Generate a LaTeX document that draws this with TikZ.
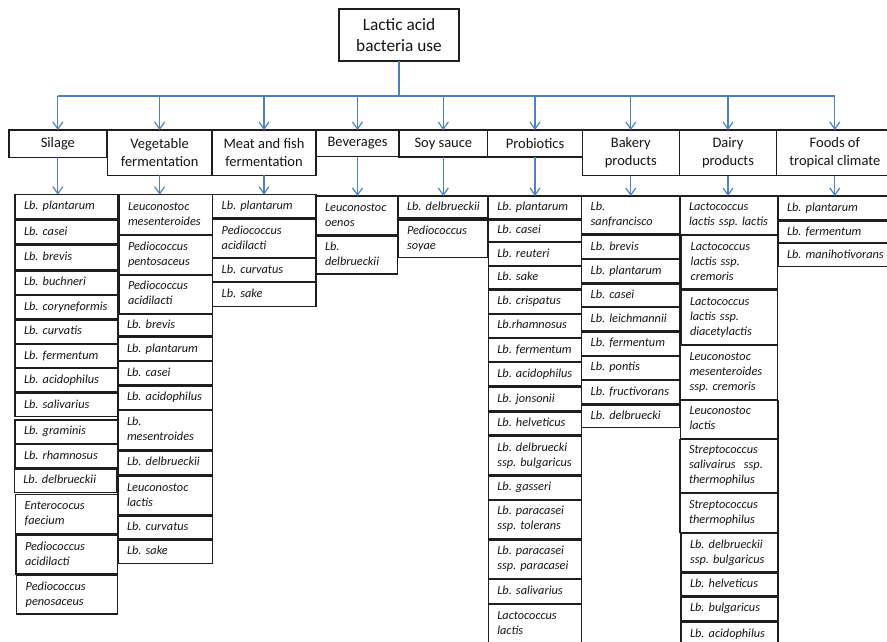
\documentclass[tikz,border=0pt]{standalone}
\usepackage{fontspec}
\setmainfont{Carlito}
\usetikzlibrary{arrows.meta}
\definecolor{linkblue}{RGB}{74,126,190}
\definecolor{arrowblue}{RGB}{80,128,196}
\definecolor{boxline}{RGB}{30,30,30}
\definecolor{inktext}{RGB}{20,20,20}
\tikzset{
  box/.style={draw=boxline, line width=1.2pt, inner sep=0pt, outer sep=0pt, text=inktext},
  rootbox/.style={box, align=center, font=\fontsize{17.3}{21}\selectfont},
  catbox/.style={box, align=center, font=\fontsize{14.5}{18}\selectfont},
  leaf/.style={box, line width=1.1pt, align=left, inner xsep=9pt, inner ysep=0pt,
    font=\itshape\fontsize{12.3}{15}\selectfont},
  trunk/.style={draw=linkblue, line width=2pt},
  bus/.style={draw=linkblue, line width=1.4pt},
  arr/.style={draw=arrowblue, line width=1.1pt,
    -{Straight Barb[length=7pt,width=10pt,line width=1.2pt]}},
}
% category box: name, x1, y1, x2, y2, text
\newcommand\catnode[6]{%
  \pgfmathsetmacro\cbw{#4-#2}\pgfmathsetmacro\cbh{#5-#3}%
  \node[catbox, minimum width=\cbw pt, minimum height=\cbh pt] (#1) at ({(#2+#4)/2},{(#3+#5)/2}) {#6};}
% species box: name, x1, y1, x2, y2, lines
\newcommand\leafnode[6]{%
  \pgfmathsetmacro\lbw{#4-#2-18}\pgfmathsetmacro\lbh{#5-#3}%
  \node[leaf, text width=\lbw pt, minimum height=\lbh pt] (#1) at ({(#2+#4)/2},{(#3+#5)/2})
    {\begin{tabular}{@{}l@{}}#6\end{tabular}};}
\frenchspacing
\begin{document}
\begin{tikzpicture}[x=1pt,y=-1pt]
\useasboundingbox (0,0) rectangle (887,641);
\clip (0,0) rectangle (887,641);

\node[rootbox, minimum width=120pt, minimum height=52pt] (root) at (399,35) {Lactic acid\\bacteria use};
\coordinate (busy) at (0,96);

\catnode{silage}{9}{130}{106.7}{157.3}{Silage}
\catnode{veg}{107.3}{130}{212}{175.3}{Vegetable\\fermentation}
\catnode{meat}{212}{130}{316}{175.3}{Meat and fish\\fermentation}
\catnode{bev}{316}{130}{399}{156.7}{Beverages}
\catnode{soy}{399}{130}{487.7}{157}{Soy sauce}
\catnode{prob}{487.7}{130}{582.3}{157}{Probiotics}
\catnode{bake}{582.3}{130}{679.3}{175.7}{Bakery\\products}
\catnode{dairy}{679.3}{130}{776.7}{175.7}{Dairy\\products}
\catnode{trop}{776.7}{130}{893}{175.7}{Foods of\\tropical climate}

% Silage
\leafnode{s1}{15}{194.7}{117.7}{218.7}{Lb. plantarum}
\leafnode{s2}{15}{220}{117.7}{244}{Lb. casei}
\leafnode{s3}{15}{245.7}{117.7}{269.3}{Lb. brevis}
\leafnode{s4}{15}{271}{117.7}{294.7}{Lb. buchneri}
\leafnode{s5}{15}{295.7}{117.7}{318.7}{Lb. coryneformis}
\leafnode{s6}{15}{320}{117.7}{343.3}{Lb. curvatis}
\leafnode{s7}{15}{344.3}{117.7}{367.7}{Lb. fermentum}
\leafnode{s8}{15}{368.7}{117.7}{392}{Lb. acidophilus}
\leafnode{s9}{15}{393.3}{117.7}{416.7}{Lb. salivarius}
\leafnode{s10}{15}{420}{117.7}{443.3}{Lb. graminis}
\leafnode{s11}{15}{444.3}{117.7}{467.7}{Lb. rhamnosus}
\leafnode{s12}{14.3}{469}{116.7}{492.7}{Lb. delbrueckii}
\leafnode{s13}{15.7}{494.7}{117.3}{534}{Enterococus\\faecium}
\leafnode{s14}{16}{535.3}{117.3}{574}{Pediococcus\\acidilacti}
\leafnode{s15}{16.7}{575.3}{117.3}{614}{Pediococcus\\penosaceus}

% Vegetable fermentation
\leafnode{v1}{119}{194.7}{212.3}{234.3}{Leuconostoc\\mesenteroides}
\leafnode{v2}{119}{235.3}{212.3}{274.3}{Pediococcus\\pentosaceus}
\leafnode{v3}{119}{275.3}{212.3}{313.3}{Pediococcus\\acidilacti}
\leafnode{v4}{118}{314}{212.3}{336}{Lb. brevis}
\leafnode{v5}{118}{337.3}{212.3}{360.7}{Lb. plantarum}
\leafnode{v6}{118}{361.7}{212.3}{384.7}{Lb. casei}
\leafnode{v7}{118}{386}{212.3}{409.3}{Lb. acidophilus}
\leafnode{v8}{118}{410.3}{212.3}{449.3}{Lb.\\mesentroides}
\leafnode{v9}{118}{451}{212.3}{474.3}{Lb. delbrueckii}
\leafnode{v10}{118}{476}{212.3}{515}{Leuconostoc\\lactis}
\leafnode{v11}{118}{516}{212.3}{538.7}{Lb. curvatus}
\leafnode{v12}{118}{540}{212.3}{563.3}{Lb. sake}

% Meat and fish fermentation
\leafnode{m1}{212.7}{194.7}{316}{218}{Lb. plantarum}
\leafnode{m2}{212.7}{219.3}{316}{257.7}{Pediococcus\\acidilacti}
\leafnode{m3}{212.7}{258.7}{316}{281.7}{Lb. curvatus}
\leafnode{m4}{212.7}{282.7}{316}{306.3}{Lb. sake}

% Beverages
\leafnode{b1}{316}{196}{397.3}{235}{Leuconostoc\\oenos}
\leafnode{b2}{316}{236}{397.3}{274}{Lb.\\delbrueckii}

% Soy sauce
\leafnode{y1}{398}{196}{488}{218}{Lb. delbrueckii}
\leafnode{y2}{398}{220}{488}{257.7}{Pediococcus\\soyae}

% Probiotics
\leafnode{p1}{488.3}{196}{581.7}{218.3}{Lb. plantarum}
\leafnode{p2}{488.3}{220}{581.7}{241.7}{Lb. casei}
\leafnode{p3}{488.3}{242.7}{581.7}{265.3}{Lb. reuteri}
\leafnode{p4}{488.3}{266.7}{581.7}{289}{Lb. sake}
\leafnode{p5}{488.3}{290}{581.7}{313.3}{Lb. crispatus}
\leafnode{p6}{488.3}{314}{581.7}{337.3}{Lb.rhamnosus}
\leafnode{p7}{488.3}{338.7}{581.7}{361.7}{Lb. fermentum}
\leafnode{p8}{488.3}{362.7}{581.7}{386}{Lb. acidophilus}
\leafnode{p9}{488.3}{387.3}{581.7}{410.7}{Lb. jonsonii}
\leafnode{p10}{488.3}{412}{581.7}{435}{Lb. helveticus}
\leafnode{p11}{488.3}{436}{581.7}{475}{Lb. delbruecki\\ssp. bulgaricus}
\leafnode{p12}{488.3}{476}{581.7}{499.3}{Lb. gasseri}
\leafnode{p13}{488.3}{500}{581.7}{538.7}{Lb. paracasei\\ssp. tolerans}
\leafnode{p14}{488.3}{540}{581.7}{578.3}{Lb. paracasei\\ssp. paracasei}
\leafnode{p15}{488.3}{579.7}{581.7}{603.3}{Lb. salivarius}
\leafnode{p16}{488.3}{604.7}{581.7}{643.3}{Lactococcus\\lactis}

% Bakery products
\leafnode{k1}{581.7}{196}{680}{234}{Lb.\\sanfrancisco}
\leafnode{k2}{581.7}{235.7}{680}{258.3}{Lb. brevis}
\leafnode{k3}{581.7}{259.3}{680}{282.7}{Lb. plantarum}
\leafnode{k4}{581.7}{284}{680}{306.7}{Lb. casei}
\leafnode{k5}{581.7}{307.3}{680}{330.7}{Lb. leichmannii}
\leafnode{k6}{581.7}{332}{680}{355.3}{Lb. fermentum}
\leafnode{k7}{581.7}{356}{680}{379.3}{Lb. pontis}
\leafnode{k8}{581.7}{380.7}{680}{403.3}{Lb. fructivorans}
\leafnode{k9}{581.7}{405}{680}{427.3}{Lb. delbruecki}

% Dairy products
\leafnode{d1}{680}{196}{777.7}{234.3}{Lactococcus\\lactis ssp. lactis}
\leafnode{d2}{681.7}{235.7}{777.7}{288.7}{Lactococcus\\lactis ssp.\\cremoris}
\leafnode{d3}{681}{290}{777.7}{344.3}{Lactococcus\\lactis ssp.\\diacetylactis}
\leafnode{d4}{680.5}{345.3}{777.7}{399.3}{Leuconostoc\\mesenteroides\\ssp. cremoris}
\leafnode{d5}{680.5}{400.3}{778}{438.3}{Leuconostoc\\lactis}
\leafnode{d6}{680}{439.3}{778}{492.3}{Streptococcus\\salivairus\ \ ssp.\\thermophilus}
\leafnode{d7}{680}{493.7}{778}{532.3}{Streptococcus\\thermophilus}
\leafnode{d8}{681}{533.3}{778}{571.7}{Lb. delbrueckii\\ssp. bulgaricus}
\leafnode{d9}{681}{573}{778}{595.7}{Lb. helveticus}
\leafnode{d10}{681}{597}{778}{620.7}{Lb. bulgaricus}
\leafnode{d11}{681}{622}{778}{646}{Lb. acidophilus}

% Foods of tropical climate
\leafnode{f1}{778}{196}{898}{220}{Lb. plantarum}
\leafnode{f2}{778}{221.7}{898}{242.3}{Lb. fermentum}
\leafnode{f3}{778}{243.3}{898}{266.7}{Lb. manihotivorans}

% connectors: trunk, bus and the arrows into each category
\draw[trunk] (root.south) -- (root.south |- busy);
\draw[bus] (silage.north |- busy) -- (trop.north |- busy);
\foreach \c in {silage,veg,meat,bev,soy,prob,bake,dairy,trop}
  \draw[arr] (\c.north |- busy) -- (\c.north);

% arrows from each category into its list
\draw[arr] (silage.south) -- (silage.south |- s1.north);
\draw[arr] (veg.south) -- (veg.south |- v1.north);
\draw[arr] (meat.south) -- (meat.south |- m1.north);
\draw[arr] (bev.south) -- (bev.south |- b1.north);
\draw[arr] (soy.south) -- (soy.south |- y1.north);
\draw[arr] (prob.south) -- (prob.south |- p1.north);
\draw[arr] (bake.south) -- (bake.south |- k1.north);
\draw[arr] (dairy.south) -- (dairy.south |- d1.north);
\draw[arr] (trop.south) -- (trop.south |- f1.north);
\end{tikzpicture}
\end{document}
